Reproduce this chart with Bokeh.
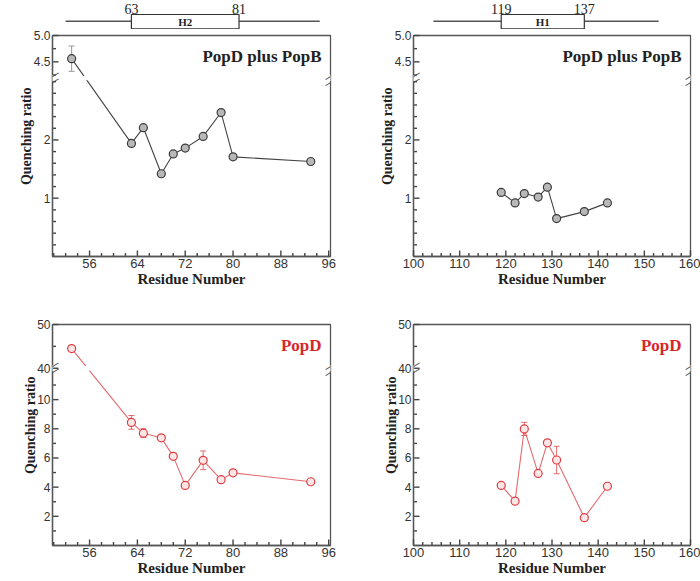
import numpy as np
from bokeh.plotting import figure
from bokeh.layouts import column, row
from bokeh.models import Range1d, FixedTicker, Label, Title
from bokeh.core.properties import value
from bokeh.embed import file_html
from bokeh.resources import INLINE

# ---------------- data ----------------
res_h2 = [53, 63, 65, 68, 70, 72, 75, 78, 80, 93]
q_h2_popdb = [4.56, 1.94, 2.21, 1.42, 1.76, 1.86, 2.06, 2.47, 1.71, 1.63]
err_h2_popdb = [0.24, 0.0, 0.0, 0.0, 0.0, 0.0, 0.0, 0.0, 0.0, 0.0]
q_h2_popd = [44.5, 8.44, 7.70, 7.38, 6.11, 4.12, 5.84, 4.51, 4.98, 4.37]
err_h2_popd = [0.0, 0.47, 0.30, 0.0, 0.0, 0.0, 0.64, 0.0, 0.0, 0.0]

res_h1 = [119, 122, 124, 127, 129, 131, 137, 142]
q_h1_popdb = [1.10, 0.92, 1.08, 1.02, 1.19, 0.65, 0.77, 0.92]
err_h1_popdb = [0.0, 0.0, 0.0, 0.0, 0.0, 0.0, 0.0, 0.0]
q_h1_popd = [4.12, 3.04, 7.99, 4.94, 7.04, 5.86, 1.91, 4.06]
err_h1_popd = [0.0, 0.0, 0.45, 0.0, 0.0, 0.94, 0.0, 0.0]

helix_h2 = ("H2", 63, 81)
helix_h2_extent = (52.0, 94.5)
helix_h1 = ("H1", 119, 137)
helix_h1_extent = (104.3, 153.1)

xticks_h2 = [56, 64, 72, 80, 88, 96]
xminor_h2 = [50, 52, 54, 58, 60, 62, 66, 68, 70, 74, 76, 78, 82, 84, 86, 90, 92, 94]
xticks_h1 = [100, 110, 120, 130, 140, 150, 160]
xminor_h1 = [102, 104, 106, 108, 112, 114, 116, 118, 122, 124, 126, 128, 132, 134, 136, 138,
             142, 144, 146, 148, 152, 154, 156, 158]

# broken y axes: (lower max, upper min, upper max, share of height for upper part)
seg_popdb = dict(lo_max=3.06, up_min=4.19, up_max=5.0, f_up=0.193,
                 major=[1, 2, 4.5, 5.0], labels=["1", "2", "4.5", "5.0"],
                 minor=[0.2, 0.4, 0.6, 0.8, 1.2, 1.4, 1.6, 1.8, 2.2, 2.4, 2.6, 2.8, 3.0, 4.25, 4.75])
seg_popd = dict(lo_max=12.15, up_min=40.0, up_max=50.0, f_up=0.198,
                major=[2, 4, 6, 8, 10, 40, 50], labels=["2", "4", "6", "8", "10", "40", "50"],
                minor=[1, 3, 5, 7, 9, 11, 45])

# ---------------- style ----------------
AX = "#555555"
SERIF = "Liberation Serif"
SANS = "Liberation Sans"
FH = 221
HELIX_H = 29

def mapper(seg):
    lo, u0, u1, f = seg["lo_max"], seg["up_min"], seg["up_max"], seg["f_up"]
    def m(y):
        y = np.asarray(y, dtype=float)
        lower = y / lo * (1 - f)
        upper = (1 - f) + (y - u0) / (u1 - u0) * f
        return np.round(np.where(y <= lo, lower, upper), 6)
    return m

def break_mark(p, x, y):
    p.add_layout(Label(x=x, y=y, text="\u2003\u2003", text_font_size="5px",
                       text_align="center", text_baseline="middle",
                       background_fill_color="white", border_line_color=None))
    for dy in (-3, 3):
        p.add_layout(Label(x=x, y=y, y_offset=dy, text="\u2014", text_font=SANS,
                           text_font_size="13px", angle=0.55, text_align="center",
                           text_baseline="middle", text_color=AX))

def panel(letter, xs, ys, errs, xr, xticks, xminor, fw, lb, rb, tb, bb, seg, kind, tag, ylab_off):
    m = mapper(seg)
    p = figure(frame_width=fw, frame_height=FH, x_range=xr, y_range=Range1d(0, 1),
               output_backend="svg", toolbar_location=None,
               min_border_left=lb, min_border_right=rb, min_border_top=tb, min_border_bottom=bb)
    p.grid.visible = False
    p.outline_line_color = AX
    p.outline_line_width = 1.3
    p.outline_line_alpha = 1.0
    for ax in (p.xaxis[0], p.yaxis[0]):
        ax.axis_line_color = AX
        ax.axis_line_width = 1.3
        ax.major_tick_in = 0
        ax.major_tick_out = 0
        ax.minor_tick_in = 0
        ax.minor_tick_out = 0
        ax.major_label_text_font = SANS
        ax.major_label_text_color = "#333333"
        ax.major_label_standoff = 2
    p.xaxis.major_label_text_font_size = "13px"
    p.yaxis.major_label_text_font_size = "12px"
    p.xaxis.ticker = FixedTicker(ticks=xticks, minor_ticks=xminor)
    p.xaxis.axis_label = "Residue Number"
    p.xaxis.axis_label_text_font = SERIF
    p.xaxis.axis_label_text_font_style = "bold"
    p.xaxis.axis_label_text_font_size = "15px"
    p.xaxis.axis_label_text_color = "#222222"
    p.xaxis.axis_label_standoff = 0

    majors = [float(v) for v in m(seg["major"])]
    minors = [float(v) for v in m(seg["minor"])]
    p.yaxis.ticker = FixedTicker(ticks=majors, minor_ticks=minors)
    p.yaxis.major_label_overrides = {t: lab for t, lab in zip(majors, seg["labels"])}
    p.add_layout(Title(text="Quenching ratio", align="right", offset=ylab_off, standoff=-6,
                       text_font=SERIF, text_font_style="bold", text_font_size="14px",
                       text_color="#222222"), "left")

    # inward tick marks along the left and bottom frame edges
    dx = (xr.end - xr.start) / fw
    dy = 1.0 / FH
    ty_y, ty_x0, ty_x1 = [], [], []
    for ys_t, ln in ((majors, 6), (minors, 3.5)):
        for yv in ys_t:
            ty_y.append(yv)
            ty_x0.append(xr.start + 0.6 * dx)
            ty_x1.append(xr.start + ln * dx)
    r1 = p.segment(x0=ty_x0, x1=ty_x1, y0=ty_y, y1=ty_y, line_color="#444444", line_width=1.4)
    tx_x, tx_y0, tx_y1 = [], [], []
    for xs_t, ln in ((xticks, 6), (xminor, 3.5)):
        for xv in xs_t:
            tx_x.append(float(xv))
            tx_y0.append(0.6 * dy)
            tx_y1.append(ln * dy)
    r2 = p.segment(x0=tx_x, x1=tx_x, y0=tx_y0, y1=tx_y1, line_color="#444444", line_width=1.4)
    r1.level = "overlay"
    r2.level = "overlay"

    if kind == "gray":
        line_c, mk_line, mk_fill, err_c, tag_c = "#444444", "#3a3a3a", "#b8b8b8", "#999999", "#222222"
    else:
        line_c, mk_line, mk_fill, err_c, tag_c = "#e46a6e", "#de3c42", "#fde6e6", "#e46a6e", "#d8262c"

    yc = m(ys)
    p.line(xs, yc, line_color=line_c, line_width=1.1)
    brk = 1 - seg["f_up"]
    p.quad(left=[xr.start + 2 * dx], right=[xr.end - 2 * dx], bottom=[brk - 2.2 * dy], top=[brk + 2.2 * dy],
           fill_color="white", line_color=None)
    ex = [x for x, e in zip(xs, errs) if e > 0]
    ylo = m([y - e for y, e in zip(ys, errs) if e > 0])
    yhi = m([y + e for y, e in zip(ys, errs) if e > 0])
    if ex:
        p.segment(x0=ex, x1=ex, y0=ylo, y1=yhi, line_color=err_c, line_width=1)
        p.scatter(ex + ex, list(ylo) + list(yhi), marker="dash", size=6, line_color=err_c, line_width=1)
    p.scatter(xs, yc, marker="circle", size=8, line_color=mk_line, fill_color=mk_fill, line_width=1.2)

    p.add_layout(Label(x=xr.end, y=1, x_offset=-9, y_offset=-21, text=tag, text_align="right",
                       text_baseline="middle", text_font=SERIF, text_font_style="bold",
                       text_font_size="17px", text_color=tag_c))
    break_mark(p, xr.start, brk)
    break_mark(p, xr.end, brk)
    if letter:
        p.add_layout(Label(x=xr.start, y=1, x_offset=-lb + 2, y_offset=2, text=letter, text_align="left",
                           text_baseline="bottom", text_font=SERIF, text_font_size="22px",
                           text_color="#222222"))
    return p

def helix_fig(letter, helix, extent, xr, fw, lb, rb):
    name, h0, h1 = helix
    p = figure(frame_width=fw, frame_height=HELIX_H, x_range=xr, y_range=Range1d(0, HELIX_H),
               output_backend="svg", toolbar_location=None, x_axis_type=None, y_axis_type=None,
               min_border_left=lb, min_border_right=rb, min_border_top=0, min_border_bottom=0)
    p.grid.visible = False
    p.outline_line_color = None
    p.segment(x0=[extent[0]], x1=[extent[1]], y0=[8.3], y1=[8.3], line_color=AX, line_width=1.5)
    p.quad(left=[h0], right=[h1], bottom=[0.7], top=[15], fill_color="white",
           line_color="#333333", line_width=1.2)
    p.text(x=[h0, h1], y=[16.0, 16.0], text=[str(h0), str(h1)], text_align="center",
           text_baseline="bottom", text_font=value(SERIF), text_font_size="14px", text_color="#222222")
    p.text(x=[(h0 + h1) / 2], y=[7.8], text=[name], text_align="center", text_baseline="middle",
           text_font=value(SERIF), text_font_style="bold", text_font_size="11px", text_color="#222222")
    p.add_layout(Label(x=xr.start, y=HELIX_H, x_offset=-lb + 2, y_offset=-1, text=letter, text_align="left",
                       text_baseline="top", text_font=SERIF, text_font_size="22px", text_color="#222222"))
    return p

# geometry
LB_L, FW_L, RB_L = 52, 278, 20
LB_R, FW_R, RB_R = 63, 277, 10

xr_a = Range1d(49.8, 96.3)
xr_b = Range1d(100, 160)
xr_c = Range1d(49.8, 96.3)
xr_d = Range1d(100, 160)

hA = helix_fig("A", helix_h2, helix_h2_extent, xr_a, FW_L, LB_L, RB_L)
hB = helix_fig("B", helix_h1, helix_h1_extent, xr_b, FW_R, LB_R, RB_R)
pA = panel(None, res_h2, q_h2_popdb, err_h2_popdb, xr_a, xticks_h2, xminor_h2, FW_L, LB_L, RB_L, 6, 30, seg_popdb, "gray", "PopD plus PopB", 52)
pB = panel(None, res_h1, q_h1_popdb, err_h1_popdb, xr_b, xticks_h1, xminor_h1, FW_R, LB_R, RB_R, 6, 30, seg_popdb, "gray", "PopD plus PopB", 52)
pC = panel("C", res_h2, q_h2_popd, err_h2_popd, xr_c, xticks_h2, xminor_h2, FW_L, LB_L, RB_L, 35, 30, seg_popd, "red", "PopD", 52)
pD = panel("D", res_h1, q_h1_popd, err_h1_popd, xr_d, xticks_h1, xminor_h1, FW_R, LB_R, RB_R, 35, 30, seg_popd, "red", "PopD", 52)

layout = column(row(column(hA, pA), column(hB, pB)), row(pC, pD))
p = layout
open("out.html", "w").write(file_html(p, INLINE))
